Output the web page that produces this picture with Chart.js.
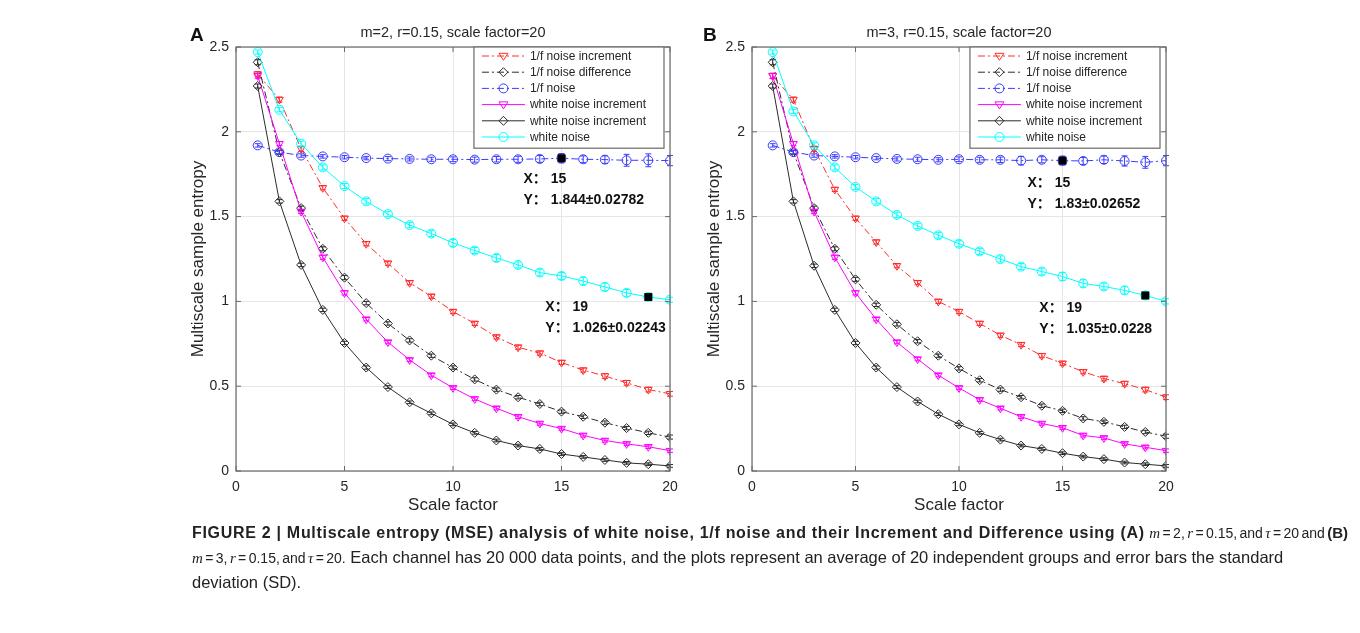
<!DOCTYPE html>
<html>
<head>
<meta charset="utf-8">
<script src="https://cdn.jsdelivr.net/npm/chart.js@4.4.0/dist/chart.umd.min.js"></script>
<style>
  body { margin: 0; background: #fff; width: 1360px; height: 633px; overflow: hidden; position: relative;
         font-family: "Liberation Sans", Arial, sans-serif; }
  .wrap { position: absolute; top: 0; height: 530px; }
  #wrapA { left: 150px; width: 540px; }
  #wrapB { left: 666px; width: 520px; }
  .tag { position: absolute; top: 24px; font: bold 19px "Liberation Sans", Arial, sans-serif; color: #111; }
  #caption { position: absolute; left: 192px; top: 520px; font-size: 16.5px; line-height: 24px; color: #222; white-space: nowrap; }
  #caption b { font-size: 16px; letter-spacing: 0.7px; }
  #caption .m { font-size: 14px; word-spacing: -1.5px; }
  #caption .m b { font-size: 15px; letter-spacing: 0; }
  #caption i { font-family: "Liberation Serif", serif; font-size: 15px; }
</style>
</head>
<body>
<div class="wrap" id="wrapA"><canvas id="chartA"></canvas></div>
<div class="wrap" id="wrapB"><canvas id="chartB"></canvas></div>
<div class="tag" style="left:190px">A</div>
<div class="tag" style="left:703px">B</div>
<div id="caption">
  <b>FIGURE 2 | Multiscale entropy (MSE) analysis of white noise, 1/f noise and their Increment and Difference using (A)</b> <span class="m"><i>m</i> = 2, <i>r</i> = 0.15, and <i>τ</i> = 20 and <b>(B)</b></span><br>
  <span class="m"><i>m</i> = 3, <i>r</i> = 0.15, and <i>τ</i> = 20.</span> Each channel has 20 000 data points, and the plots represent an average of 20 independent groups and error bars the standard<br>
  deviation (SD).
</div>

<script>
// x values (scale factor)
var scaleFactor = [1, 2, 3, 4, 5, 6, 7, 8, 9, 10, 11, 12, 13, 14, 15, 16, 17, 18, 19, 20];

var seriesLabels = ["1/f noise increment", "1/f noise difference", "1/f noise",
                    "white noise increment", "white noise increment", "white noise"];

// Panel A : m=2
var pinkIncA   = [2.34, 2.19, 1.90, 1.67, 1.49, 1.34, 1.225, 1.11, 1.03, 0.94, 0.87, 0.79, 0.73, 0.695, 0.64, 0.595, 0.56, 0.52, 0.48, 0.455];
var pinkDiffA  = [2.41, 1.88, 1.55, 1.31, 1.14, 0.99, 0.87, 0.77, 0.68, 0.61, 0.54, 0.48, 0.435, 0.395, 0.35, 0.32, 0.285, 0.253, 0.225, 0.20];
var pinkA      = [1.92, 1.88, 1.86, 1.855, 1.85, 1.845, 1.842, 1.84, 1.838, 1.838, 1.836, 1.838, 1.838, 1.84, 1.844, 1.838, 1.836, 1.832, 1.832, 1.83];
var whiteIncA  = [2.33, 1.93, 1.53, 1.26, 1.05, 0.895, 0.76, 0.655, 0.565, 0.49, 0.425, 0.37, 0.32, 0.28, 0.25, 0.21, 0.18, 0.16, 0.143, 0.12];
var whiteDiffA = [2.27, 1.59, 1.215, 0.95, 0.755, 0.61, 0.495, 0.405, 0.34, 0.275, 0.225, 0.18, 0.15, 0.13, 0.10, 0.083, 0.065, 0.048, 0.04, 0.03];
var whiteA     = [2.47, 2.13, 1.93, 1.79, 1.68, 1.59, 1.515, 1.45, 1.40, 1.345, 1.30, 1.256, 1.215, 1.17, 1.15, 1.12, 1.085, 1.05, 1.026, 1.01];

// Panel B : m=3
var pinkIncB   = [2.33, 2.19, 1.90, 1.66, 1.49, 1.35, 1.21, 1.11, 1.00, 0.94, 0.87, 0.80, 0.745, 0.68, 0.635, 0.585, 0.545, 0.515, 0.48, 0.435];
var pinkDiffB  = [2.41, 1.88, 1.55, 1.31, 1.13, 0.98, 0.865, 0.765, 0.68, 0.605, 0.535, 0.48, 0.435, 0.385, 0.355, 0.31, 0.29, 0.26, 0.23, 0.205];
var pinkB      = [1.92, 1.88, 1.86, 1.855, 1.85, 1.845, 1.84, 1.838, 1.835, 1.838, 1.835, 1.835, 1.83, 1.835, 1.83, 1.828, 1.835, 1.828, 1.82, 1.83];
var whiteIncB  = [2.33, 1.93, 1.53, 1.26, 1.05, 0.895, 0.76, 0.66, 0.565, 0.49, 0.42, 0.37, 0.32, 0.28, 0.255, 0.21, 0.195, 0.16, 0.14, 0.12];
var whiteDiffB = [2.27, 1.59, 1.21, 0.95, 0.755, 0.61, 0.495, 0.41, 0.335, 0.275, 0.225, 0.185, 0.15, 0.13, 0.105, 0.085, 0.07, 0.05, 0.04, 0.03];
var whiteB     = [2.47, 2.12, 1.92, 1.79, 1.675, 1.59, 1.51, 1.445, 1.39, 1.34, 1.295, 1.25, 1.205, 1.176, 1.147, 1.106, 1.088, 1.065, 1.035, 1.00];

// standard deviations (error bars)
var sdPinkInc   = [0.015, 0.015, 0.015, 0.012, 0.012, 0.012, 0.012, 0.012, 0.012, 0.012, 0.012, 0.012, 0.012, 0.012, 0.012, 0.012, 0.014, 0.014, 0.014, 0.014];
var sdPinkDiff  = [0.015, 0.012, 0.012, 0.012, 0.012, 0.010, 0.010, 0.010, 0.010, 0.010, 0.010, 0.010, 0.010, 0.010, 0.010, 0.010, 0.010, 0.010, 0.010, 0.012];
var sdWhiteInc  = [0.015, 0.012, 0.012, 0.012, 0.012, 0.010, 0.010, 0.010, 0.010, 0.010, 0.010, 0.010, 0.010, 0.010, 0.010, 0.010, 0.010, 0.010, 0.010, 0.010];
var sdWhiteDiff = [0.012, 0.010, 0.010, 0.010, 0.010, 0.010, 0.008, 0.008, 0.008, 0.008, 0.008, 0.008, 0.008, 0.008, 0.008, 0.008, 0.008, 0.008, 0.008, 0.008];
var sdPinkA  = [0.010, 0.010, 0.010, 0.010, 0.010, 0.010, 0.012, 0.012, 0.012, 0.014, 0.015, 0.016, 0.018, 0.020, 0.02782, 0.020, 0.022, 0.035, 0.038, 0.030];
var sdWhiteA = [0.012, 0.012, 0.015, 0.015, 0.015, 0.016, 0.016, 0.016, 0.017, 0.020, 0.018, 0.020, 0.018, 0.020, 0.020, 0.022, 0.022, 0.020, 0.02243, 0.015];
var sdPinkB  = [0.010, 0.010, 0.010, 0.010, 0.010, 0.010, 0.012, 0.012, 0.012, 0.014, 0.015, 0.016, 0.025, 0.018, 0.02652, 0.020, 0.022, 0.030, 0.035, 0.030];
var sdWhiteB = [0.012, 0.012, 0.015, 0.015, 0.015, 0.016, 0.016, 0.016, 0.017, 0.018, 0.018, 0.018, 0.018, 0.020, 0.023, 0.022, 0.020, 0.022, 0.0228, 0.015];

var seriesColors  = ["#ff2b2b", "#2b2b2b", "#3b3bff", "#ff00ff", "#2b2b2b", "#00ffff"];
var seriesMarkers = ["triangle", "rectRot", "circle", "triangle", "rectRot", "circle"];
var seriesDashed  = [true, true, true, false, false, false];

var FONT = '"Liberation Sans", Arial, sans-serif';
var TEXT = '#262626';

function drawMarker(ctx, style, x, y, r) {
    ctx.beginPath();
    if (style === 'circle') {
        ctx.arc(x, y, r, 0, Math.PI * 2);
    } else if (style === 'rectRot') {
        ctx.moveTo(x, y - r); ctx.lineTo(x + r, y); ctx.lineTo(x, y + r); ctx.lineTo(x - r, y); ctx.closePath();
    } else {
        ctx.moveTo(x - r, y - r * 0.6); ctx.lineTo(x + r, y - r * 0.6); ctx.lineTo(x, y + r * 0.95); ctx.closePath();
    }
    ctx.stroke();
}

// axes box, inward ticks and the title centred over the axes
var framePlugin = {
    id: 'frame',
    afterDraw: function(chart) {
        var ctx = chart.ctx, a = chart.chartArea, xs = chart.scales.x, ys = chart.scales.y;
        ctx.save();
        ctx.strokeStyle = '#6a6a6a';
        ctx.lineWidth = 1.2;
        ctx.strokeRect(a.left, a.top, a.right - a.left, a.bottom - a.top);
        ctx.lineWidth = 1;
        xs.ticks.forEach(function(t) {
            var px = xs.getPixelForValue(t.value);
            ctx.beginPath();
            ctx.moveTo(px, a.bottom); ctx.lineTo(px, a.bottom - 5);
            ctx.moveTo(px, a.top); ctx.lineTo(px, a.top + 5);
            ctx.stroke();
        });
        ys.ticks.forEach(function(t) {
            var py = ys.getPixelForValue(t.value);
            ctx.beginPath();
            ctx.moveTo(a.left, py); ctx.lineTo(a.left + 5, py);
            ctx.moveTo(a.right, py); ctx.lineTo(a.right - 5, py);
            ctx.stroke();
        });
        ctx.fillStyle = TEXT;
        ctx.font = '14.5px ' + FONT;
        ctx.textAlign = 'center';
        ctx.textBaseline = 'middle';
        ctx.fillText(chart.options.plugins.frame.title, (a.left + a.right) / 2, 33);
        ctx.restore();
    }
};

// vertical error bars from each dataset's sd array
var errorBarPlugin = {
    id: 'errorBars',
    afterDatasetsDraw: function(chart) {
        var ctx = chart.ctx, xs = chart.scales.x, ys = chart.scales.y;
        ctx.save();
        ctx.lineWidth = 1;
        chart.data.datasets.forEach(function(ds) {
            if (!ds.sd) return;
            ctx.strokeStyle = ds.borderColor;
            ds.data.forEach(function(p, i) {
                var px = xs.getPixelForValue(p.x);
                var y1 = ys.getPixelForValue(p.y - ds.sd[i]);
                var y2 = ys.getPixelForValue(p.y + ds.sd[i]);
                ctx.beginPath();
                ctx.moveTo(px, y1); ctx.lineTo(px, y2);
                ctx.moveTo(px - 3, y1); ctx.lineTo(px + 3, y1);
                ctx.moveTo(px - 3, y2); ctx.lineTo(px + 3, y2);
                ctx.stroke();
            });
        });
        ctx.restore();
    }
};

// MATLAB-style legend in the upper right corner of the axes
var legendPlugin = {
    id: 'boxLegend',
    afterDraw: function(chart) {
        var ctx = chart.ctx, a = chart.chartArea;
        var rowH = 16.2, sample = 43, textW = 0;
        ctx.save();
        ctx.font = '12px ' + FONT;
        chart.data.datasets.forEach(function(ds) { textW = Math.max(textW, ctx.measureText(ds.label).width); });
        var w = 8 + sample + 5 + textW + 18;
        var h = rowH * chart.data.datasets.length + 4;
        var left = a.right - 6 - w, top = a.top;
        ctx.fillStyle = '#fff';
        ctx.fillRect(left, top, w, h);
        ctx.strokeStyle = '#6a6a6a';
        ctx.lineWidth = 1.2;
        ctx.strokeRect(left, top, w, h);
        chart.data.datasets.forEach(function(ds, i) {
            var y = top + 9 + i * rowH;
            var x0 = left + 8;
            ctx.strokeStyle = ds.borderColor;
            ctx.lineWidth = 1;
            ctx.setLineDash(ds.borderDash || []);
            ctx.beginPath(); ctx.moveTo(x0, y); ctx.lineTo(x0 + sample, y); ctx.stroke();
            ctx.setLineDash([]);
            drawMarker(ctx, ds.markerName, x0 + sample / 2, y, 4.5);
            ctx.fillStyle = TEXT;
            ctx.textBaseline = 'middle';
            ctx.textAlign = 'left';
            ctx.fillText(ds.label, x0 + sample + 5, y + 0.5);
        });
        ctx.restore();
    }
};

// data tips: black square on the point and two lines of bold text
var dataTipPlugin = {
    id: 'dataTips',
    afterDraw: function(chart) {
        var tips = chart.options.plugins.dataTips.tips;
        var ctx = chart.ctx, xs = chart.scales.x, ys = chart.scales.y;
        ctx.save();
        tips.forEach(function(t) {
            var ds = chart.data.datasets[t.dataset];
            var p = ds.data[t.index];
            var px = xs.getPixelForValue(p.x), py = ys.getPixelForValue(p.y);
            ctx.fillStyle = '#000';
            ctx.fillRect(px - 4, py - 4, 8, 8);
            ctx.font = 'bold 14px ' + FONT + ', "Noto Sans CJK SC"';
            ctx.textBaseline = 'middle';
            ctx.textAlign = 'left';
            ctx.fillStyle = '#111';
            ctx.fillText('X\uFF1A ' + p.x, px + t.dx, py + t.dy);
            ctx.fillText('Y\uFF1A ' + p.y + '\u00B1' + ds.sd[t.index], px + t.dx, py + t.dy + 21);
        });
        ctx.restore();
    }
};

function makePanel(canvasId, titleText, values, sds, tips) {
    var datasets = values.map(function(vals, k) {
        return {
            label: seriesLabels[k],
            data: scaleFactor.map(function(x, i) { return { x: x, y: vals[i] }; }),
            sd: sds[k],
            markerName: seriesMarkers[k],
            borderColor: seriesColors[k],
            backgroundColor: 'rgba(0,0,0,0)',
            borderWidth: 1,
            borderDash: seriesDashed[k] ? [7, 3, 2, 3] : [],
            pointStyle: seriesMarkers[k],
            pointRotation: seriesMarkers[k] === 'triangle' ? 180 : 0,
            pointRadius: 4.5,
            pointBorderWidth: 1,
            pointBorderColor: seriesColors[k],
            pointBackgroundColor: 'rgba(0,0,0,0)',
            tension: 0,
            order: 5 - k
        };
    });

    var config = {
        type: 'line',
        data: { datasets: datasets },
        options: {
            responsive: true,
            maintainAspectRatio: false,
            animation: false,
            events: [],
            layout: { padding: { left: 0, right: 20, top: 47, bottom: 0 } },
            plugins: {
                legend: { display: false },
                tooltip: { enabled: false },
                title: { display: false },
                frame: { title: titleText },
                dataTips: { tips: tips }
            },
            scales: {
                x: {
                    type: 'linear', min: 0, max: 20,
                    ticks: { stepSize: 5, color: TEXT, padding: 8, maxRotation: 0, font: { family: FONT, size: 14 } },
                    grid: { color: '#e6e6e6', drawTicks: false },
                    border: { display: false },
                    title: { display: true, text: 'Scale factor', color: TEXT,
                             font: { family: FONT, size: 17 }, padding: { top: 0, bottom: 14 } },
                    afterFit: function(s) { s.height = 59; }
                },
                y: {
                    min: 0, max: 2.5,
                    ticks: { stepSize: 0.5, color: TEXT, padding: 7, font: { family: FONT, size: 14 },
                             callback: function(v) { return String(v); } },
                    grid: { color: '#e6e6e6', drawTicks: false },
                    border: { display: false },
                    title: { display: true, text: 'Multiscale sample entropy', color: TEXT,
                             font: { family: FONT, size: 17 }, padding: { top: 38, bottom: 0 } },
                    afterFit: function(s) { s.width = 86; }
                }
            }
        },
        plugins: [framePlugin, errorBarPlugin, legendPlugin, dataTipPlugin]
    };
    return new Chart(document.getElementById(canvasId), config);
}

makePanel('chartA', 'm=2, r=0.15, scale factor=20',
    [pinkIncA, pinkDiffA, pinkA, whiteIncA, whiteDiffA, whiteA],
    [sdPinkInc, sdPinkDiff, sdPinkA, sdWhiteInc, sdWhiteDiff, sdWhiteA],
    [{ dataset: 2, index: 14, dx: -38, dy: 21 }, { dataset: 5, index: 18, dx: -103, dy: 10 }]);

makePanel('chartB', 'm=3, r=0.15, scale factor=20',
    [pinkIncB, pinkDiffB, pinkB, whiteIncB, whiteDiffB, whiteB],
    [sdPinkInc, sdPinkDiff, sdPinkB, sdWhiteInc, sdWhiteDiff, sdWhiteB],
    [{ dataset: 2, index: 14, dx: -35, dy: 23 }, { dataset: 5, index: 18, dx: -106, dy: 13 }]);
</script>
</body>
</html>
